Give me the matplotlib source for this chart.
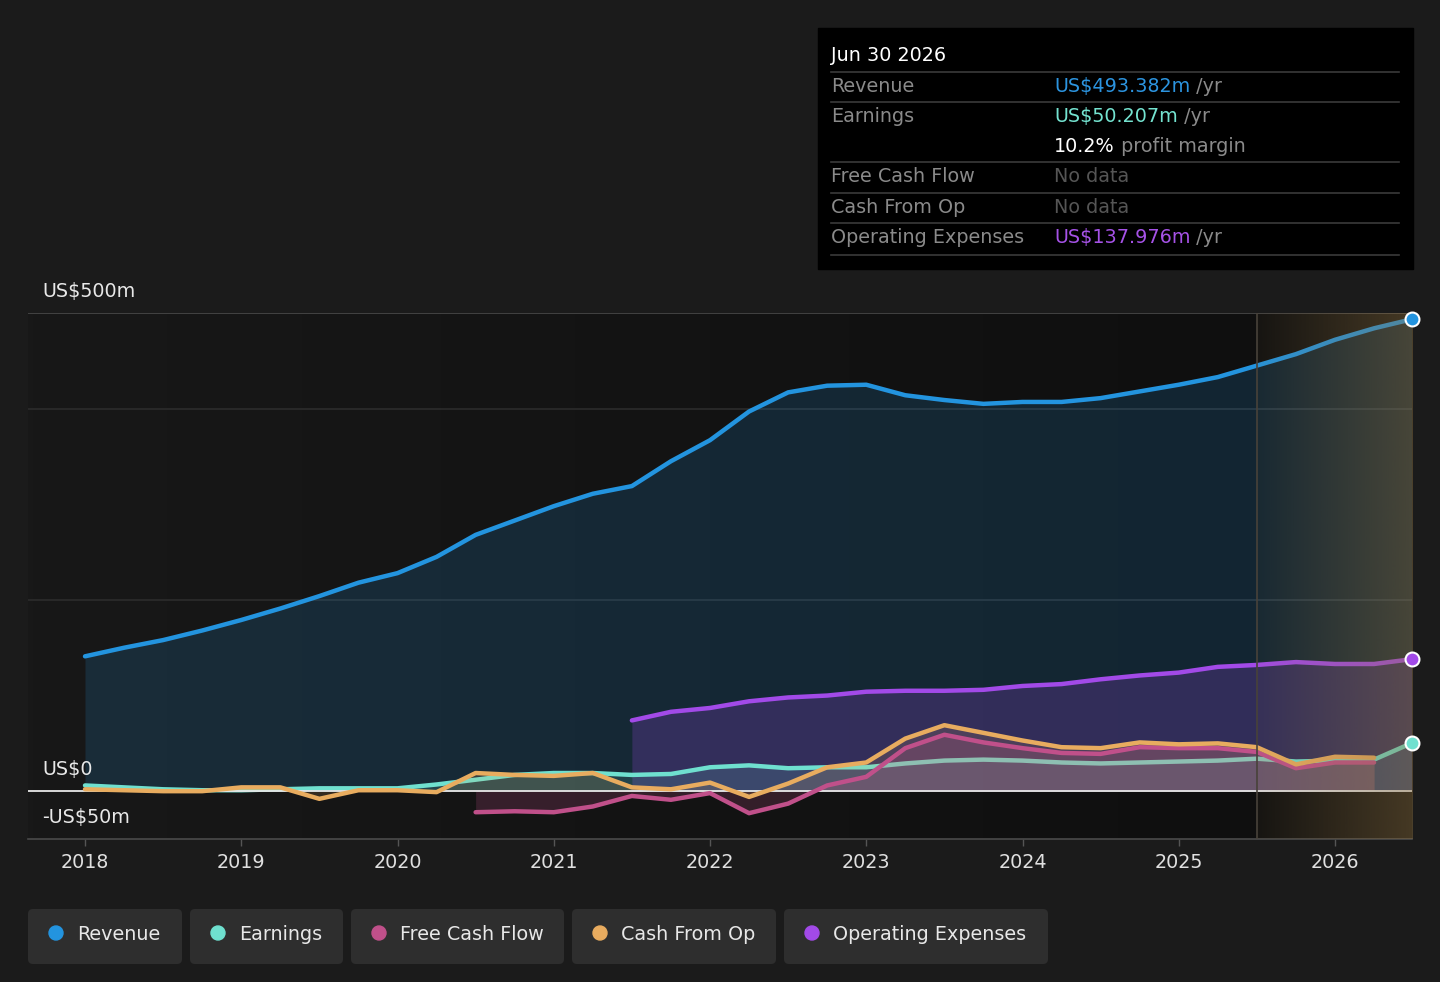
import numpy as np
import matplotlib.pyplot as plt
from matplotlib.patches import FancyBboxPatch, Circle, Rectangle

# --- data, US$ m, x in decimal years (quarter ends)
quarters = [2018 + 0.25 * i for i in range(34)]      # 2018.0 .. 2026.25
end_x = 2026.49                                       # Jun 30 2026

rev_x = quarters + [end_x]
revenue = [141, 150, 158, 168, 179, 191, 204, 218, 228, 245, 268, 283, 298, 311, 319, 345,
           367, 397, 417, 424, 425, 414, 409, 405, 407, 407, 411, 418, 425, 433, 445, 457,
           472, 484, 493.382]

earn_x = quarters + [end_x]
earnings = [6, 4, 2, 1, 1, 2, 3, 3, 3, 7, 12, 17, 19, 19, 17, 18,
            25, 27, 24, 25, 25, 29, 32, 33, 32, 30, 29, 30, 31, 32, 34, 31,
            32, 33, 50.207]

cfo_x = quarters
cash_from_op = [2, 1, 0, 0, 4, 4, -8, 1, 1, -1, 19, 17, 16, 19, 4, 2,
                9, -6, 8, 25, 30, 55, 69, 61, 53, 46, 45, 51, 49, 50, 46, 28,
                36, 35]

fcf_x = quarters[10:]
free_cash_flow = [-22, -21, -22, -16, -5, -9, -2, -23, -13, 6, 15, 45, 59, 51, 45, 40,
                  39, 46, 45, 45, 41, 24, 30, 30]

opex_x = quarters[14:] + [end_x]
opex = [74, 83, 87, 94, 98, 100, 104, 105, 105, 106, 110, 112, 117, 121, 124, 130,
        132, 135, 133, 133, 137.976]

years = list(range(2018, 2027))
forecast_start = 2025.5

BLUE = '#2394df'
TEAL = '#6fe0cf'
PINK = '#c0508a'
ORANGE = '#e8ac5f'
PURPLE = '#a24ae8'
FS = 13.8

# --- figure
fig = plt.figure(figsize=(14.4, 9.82), dpi=100, facecolor='#1b1b1b')
ax = fig.add_axes([28 / 1440, 1 - 839 / 982, 1384 / 1440, 526 / 982])
x0 = 2018 - 57 / 156.25
x1 = 2018 + 1327 / 156.25
ax.set_facecolor('#161616')

# darkening background towards the forecast line
g = np.linspace(0, 1, 256)[:, None]
bg = np.array([24, 24, 24]) / 255 * (1 - g) + np.array([15, 15, 15]) / 255 * g
ax.imshow(bg[None, :, :], extent=[x0, forecast_start, -50, 500], aspect='auto', zorder=0)
ax.axvspan(forecast_start, x1, color='#0f0f0f', lw=0, zorder=0)

ax.axhline(500, color='#4a4a4a', lw=1.2, zorder=1)
for v in [400, 200]:
    ax.axhline(v, color='#2c2c2c', lw=1.2, zorder=1)

# (x, y, colour, fill alpha, fill zorder, line zorder)
series = [
    (rev_x, revenue, BLUE, 0.17, 2.0, 2.1),
    (opex_x, opex, PURPLE, 0.22, 2.2, 2.3),
    (earn_x, earnings, TEAL, 0.15, 2.4, 2.5),
    (fcf_x, free_cash_flow, PINK, 0.2, 2.6, 2.8),
    (cfo_x, cash_from_op, ORANGE, 0.15, 2.7, 2.9),
]
for xs, ys, c, a, zf, zl in series:
    ax.fill_between(xs, ys, 0, color=c, alpha=a, lw=0, zorder=zf)
    ax.plot(xs, ys, color=c, lw=3.2, solid_capstyle='round', solid_joinstyle='round',
            zorder=zl)

ax.axhline(0, color='#e8e8e8', lw=1.3, zorder=2.75)

# forecast shading
ov = np.zeros((1, 256, 4))
ov[..., 0] = 145 / 255
ov[..., 1] = 115 / 255
ov[..., 2] = 65 / 255
ov[..., 3] = np.linspace(0.06, 0.42, 256)
ax.imshow(ov, extent=[forecast_start, x1, -50, 500], aspect='auto', zorder=5)
ax.axvline(forecast_start, color='#48423a', lw=1.2, zorder=5)

for xs, ys, c in [(rev_x, revenue, BLUE), (opex_x, opex, PURPLE), (earn_x, earnings, TEAL)]:
    ax.plot(xs[-1], ys[-1], 'o', ms=10, mfc=c, mec='white', mew=1.5, zorder=7, clip_on=False)

ax.set_xlim(x0, x1)
ax.set_ylim(-50, 500)
ax.set_xticks(years)
ax.set_xticklabels([str(y) for y in years])
ax.set_yticks([])
ax.tick_params(axis='x', colors='#555555', labelcolor='#e0e0e0', length=5, width=1,
               labelsize=FS, pad=5)
for s in ['top', 'left', 'right']:
    ax.spines[s].set_visible(False)
ax.spines['bottom'].set_color('#4a4a4a')
ax.spines['bottom'].set_linewidth(1.2)

# --- overlay in pixel coordinates
ox = fig.add_axes([0, 0, 1, 1], zorder=10)
ox.set_xlim(0, 1440)
ox.set_ylim(982, 0)
ox.axis('off')

for y, s in [(291, 'US$500m'), (769, 'US$0'), (818, '-US$50m')]:
    ox.text(42, y, s, color='#e8e8e8', fontsize=FS, va='center')

# tooltip
ox.add_patch(Rectangle((818, 28), 595, 241, color='#000000', zorder=1))
for y in [72, 102, 162, 193, 223, 255]:
    ox.plot([831, 1399], [y, y], color='#3a3a3a', lw=1.2, zorder=2)

renderer = fig.canvas.get_renderer()
LABEL = '#8a8a8a'


def two_tone(x, y, first, c1, second, c2):
    t = ox.text(x, y, first, color=c1, fontsize=FS, va='center', zorder=3)
    bb = t.get_window_extent(renderer=renderer)
    ox.text(bb.x1, y, second, color=c2, fontsize=FS, va='center', zorder=3)


ox.text(831, 55, 'Jun 30 2026', color='white', fontsize=FS, va='center', zorder=3)
rows = [
    (86, 'Revenue', 'US$493.382m', '#2c94df', ' /yr'),
    (116, 'Earnings', 'US$50.207m', '#74e3d0', ' /yr'),
    (146, '', '10.2%', 'white', ' profit margin'),
    (176, 'Free Cash Flow', 'No data', '#555555', ''),
    (207, 'Cash From Op', 'No data', '#555555', ''),
    (237, 'Operating Expenses', 'US$137.976m', '#a552e6', ' /yr'),
]
for y, lab, val, c, tail in rows:
    if lab:
        ox.text(831, y, lab, color=LABEL, fontsize=FS, va='center', zorder=3)
    two_tone(1054, y, val, c, tail, LABEL)

# legend buttons
buttons = [
    (28, 182, 'Revenue', BLUE),
    (190, 343, 'Earnings', TEAL),
    (351, 564, 'Free Cash Flow', PINK),
    (572, 776, 'Cash From Op', ORANGE),
    (784, 1048, 'Operating Expenses', PURPLE),
]
for xa, xb, lab, c in buttons:
    ox.add_patch(FancyBboxPatch((xa, 909), xb - xa, 55,
                                boxstyle='round,pad=0,rounding_size=5',
                                fc='#2e2e2e', ec='none'))
    ox.add_patch(Circle((xa + 28, 933), 7, color=c))
    ox.text(xa + 49, 934, lab, color='#e8e8e8', fontsize=FS, va='center')

fig.savefig('out.png', dpi=100, facecolor=fig.get_facecolor())
